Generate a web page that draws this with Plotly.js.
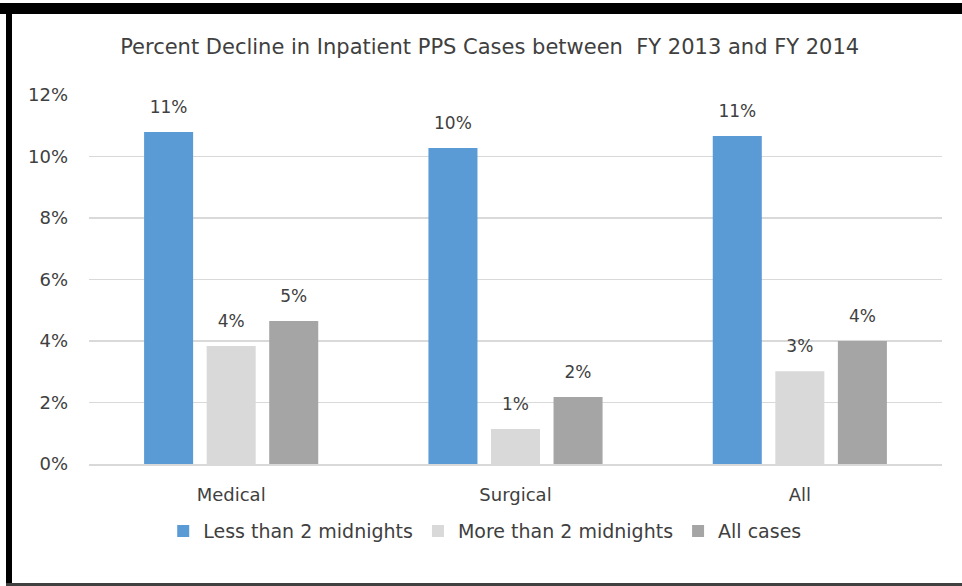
<!DOCTYPE html>
<html>
<head>
<meta charset="utf-8">
<script src="https://cdn.plot.ly/plotly-3.0.1.min.js"></script>
<style>
  html, body { margin: 0; padding: 0; background: #fff; }
  #wrap { position: relative; width: 962px; height: 586px; overflow: hidden; }
  #chart { position: absolute; left: 0; top: 0; width: 962px; height: 586px; }
  .bd { position: absolute; pointer-events: none; }
</style>
</head>
<body>
<div id="wrap">
  <div id="chart"></div>
  <div class="bd" style="left:0;top:3px;width:962px;height:11px;background:#000;"></div>
  <div class="bd" style="left:6px;top:3px;width:6px;height:583px;background:#000;"></div>
  <div class="bd" style="left:6px;top:583px;width:956px;height:3px;background:#404040;"></div>
</div>
<script>
const categories = ["Medical", "Surgical", "All"];
const seriesNames = ["Less than 2 midnights", "More than 2 midnights", "All cases"];
const lessThan2 = [10.8, 10.28, 10.67];
const moreThan2 = [3.84, 1.14, 3.02];
const allCases = [4.65, 2.18, 4.0];
const yTicks = [0, 2, 4, 6, 8, 10, 12];
const yTickLabels = ["0%", "2%", "4%", "6%", "8%", "10%", "12%"];

const colors = ["#5B9BD5", "#D9D9D9", "#A5A5A5"];
const FONT = "'DejaVu Sans', sans-serif";
const TXT = "#404040";

const seriesVals = [lessThan2, moreThan2, allCases];
const barTraces = seriesVals.map((vals, i) => ({
  type: "bar",
  name: seriesNames[i],
  x: categories,
  y: vals,
  marker: { color: colors[i], line: { width: 0 } },
  hoverinfo: "skip"
}));
// value labels: invisible markers so labels sit a little above each bar
const labelTraces = seriesVals.map((vals, i) => ({
  type: "scatter",
  mode: "markers+text",
  orientation: "v",
  x: categories,
  y: vals,
  text: vals.map(v => Math.round(v) + "%"),
  textposition: "top center",
  textfont: { family: FONT, size: 17, color: TXT },
  marker: { size: 22, opacity: 0, color: colors[i] },
  cliponaxis: false,
  showlegend: false,
  hoverinfo: "skip"
}));

const layout = {
  width: 962,
  height: 586,
  margin: { l: 89, r: 20, t: 95, b: 122 },
  paper_bgcolor: "#fff",
  plot_bgcolor: "#fff",
  font: { family: FONT, color: TXT, size: 17 },
  title: {
    text: "Percent Decline in Inpatient PPS Cases between  FY 2013 and FY 2014",
    font: { family: FONT, size: 21, color: TXT },
    xref: "container", x: 0.509, xanchor: "center",
    yref: "container", y: 1 - 47 / 586, yanchor: "middle"
  },
  barmode: "group",
  bargap: 0.34,
  bargroupgap: 0.216,
  scattermode: "group",
  xaxis: {
    type: "category",
    showgrid: false,
    showline: true,
    linecolor: "#D9D9D9",
    linewidth: 1.5,
    ticks: "",
    ticklabelstandoff: 14,
    tickfont: { family: FONT, size: 18, color: TXT }
  },
  yaxis: {
    range: [0, 12],
    tickvals: yTicks,
    ticktext: yTickLabels,
    showgrid: true,
    gridcolor: "#D9D9D9",
    gridwidth: 1.5,
    zeroline: false,
    showline: false,
    ticks: "",
    ticklabelstandoff: 20,
    tickfont: { family: FONT, size: 18, color: TXT }
  },
  showlegend: true,
  legend: {
    orientation: "h",
    x: 0.087, xanchor: "left",
    y: -0.182, yanchor: "middle",
    font: { family: FONT, size: 19, color: TXT },
    itemwidth: 30,
    traceorder: "normal"
  }
};

Plotly.newPlot("chart", barTraces.concat(labelTraces), layout, { displayModeBar: false, staticPlot: true });
</script>
</body>
</html>
